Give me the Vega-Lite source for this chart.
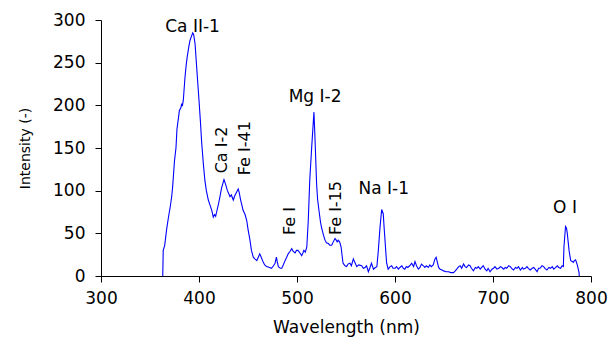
{
  "$schema": "https://vega.github.io/schema/vega-lite/v6.json",
  "width": 490,
  "height": 256,
  "autosize": {"type": "none"},
  "padding": {"left": 101, "top": 20, "right": 22, "bottom": 63},
  "background": "white",
  "config": {"view": {"stroke": null}, "font": "DejaVu Sans"},
  "datasets": {
    "spectrum": [
      {"w":363,"i":0},{"w":363.5,"i":30},{"w":365,"i":36},{"w":367,"i":55},{"w":369,"i":70},{"w":370.5,"i":80},{"w":372,"i":92},{"w":373,"i":103},{"w":375,"i":135},{"w":376.5,"i":150},{"w":377.5,"i":172},{"w":379,"i":185},{"w":380,"i":194},{"w":381.5,"i":197},{"w":382.3,"i":202},{"w":383,"i":199},{"w":384,"i":206},{"w":385.7,"i":233},{"w":387,"i":248},{"w":388,"i":257},{"w":389.5,"i":268},{"w":390.8,"i":276},{"w":392,"i":280},{"w":393.6,"i":285},{"w":394.5,"i":283},{"w":396,"i":272},{"w":397.6,"i":245},{"w":399,"i":222},{"w":400,"i":206},{"w":401.5,"i":180},{"w":402.7,"i":157},{"w":404.4,"i":132},{"w":406,"i":112},{"w":407.5,"i":100},{"w":409.5,"i":89},{"w":411,"i":84},{"w":413,"i":77},{"w":414.6,"i":69},{"w":416,"i":72},{"w":417,"i":70},{"w":418,"i":75},{"w":420,"i":85},{"w":421.4,"i":93},{"w":423,"i":103},{"w":425.5,"i":113},{"w":427,"i":108},{"w":429,"i":100},{"w":430.5,"i":96},{"w":431.6,"i":93},{"w":433,"i":95},{"w":435,"i":89},{"w":436.5,"i":94},{"w":437.8,"i":97},{"w":440,"i":102},{"w":441,"i":98},{"w":442.5,"i":89},{"w":444,"i":82},{"w":445,"i":77},{"w":447,"i":72},{"w":448.7,"i":65},{"w":450,"i":55},{"w":452,"i":42},{"w":453.5,"i":30},{"w":455.4,"i":22},{"w":457,"i":20},{"w":459,"i":18},{"w":460.5,"i":22},{"w":462,"i":26},{"w":463.5,"i":22},{"w":465.6,"i":16},{"w":467,"i":13},{"w":469,"i":11},{"w":472,"i":10},{"w":474,"i":9},{"w":476,"i":12},{"w":477.6,"i":15},{"w":479,"i":22},{"w":480,"i":16},{"w":481,"i":11},{"w":483,"i":9},{"w":484.4,"i":9},{"w":486,"i":13},{"w":487.8,"i":18},{"w":489.5,"i":22},{"w":491,"i":26},{"w":493,"i":29},{"w":494.6,"i":32},{"w":496,"i":29},{"w":498,"i":27},{"w":499.5,"i":30},{"w":501,"i":30},{"w":503,"i":27},{"w":504.8,"i":24},{"w":506,"i":27},{"w":507,"i":30},{"w":508.5,"i":28},{"w":510,"i":34},{"w":511.5,"i":65},{"w":513,"i":112},{"w":515,"i":151},{"w":516.6,"i":180},{"w":517.3,"i":192},{"w":518.4,"i":160},{"w":520,"i":108},{"w":521,"i":90},{"w":522.4,"i":77},{"w":524,"i":63},{"w":525,"i":57},{"w":527,"i":48},{"w":528.6,"i":42},{"w":530,"i":39},{"w":532,"i":38},{"w":533.5,"i":36},{"w":535.4,"i":36},{"w":537,"i":40},{"w":538.8,"i":44},{"w":540,"i":42},{"w":541,"i":40},{"w":542,"i":42},{"w":543.5,"i":40},{"w":545,"i":34},{"w":546,"i":24},{"w":547,"i":15},{"w":549,"i":12},{"w":550.7,"i":11},{"w":552,"i":14},{"w":554,"i":15},{"w":555.5,"i":12},{"w":557.5,"i":20},{"w":559,"i":16},{"w":561,"i":11},{"w":563,"i":13},{"w":566,"i":12},{"w":567.7,"i":9},{"w":569.5,"i":10},{"w":571,"i":12},{"w":572.8,"i":5},{"w":574.5,"i":10},{"w":576,"i":15},{"w":578,"i":8},{"w":580,"i":10},{"w":581.5,"i":11},{"w":583,"i":30},{"w":584.7,"i":57},{"w":586.4,"i":78},{"w":588,"i":73},{"w":589,"i":55},{"w":589.8,"i":42},{"w":591,"i":22},{"w":591.5,"i":15},{"w":593,"i":8},{"w":595,"i":11},{"w":596.6,"i":12},{"w":598,"i":9},{"w":600,"i":9},{"w":601.5,"i":11},{"w":603.5,"i":8},{"w":605,"i":10},{"w":607,"i":12},{"w":608.5,"i":9},{"w":610,"i":8},{"w":611.5,"i":11},{"w":613,"i":10},{"w":615,"i":12},{"w":617,"i":15},{"w":619,"i":11},{"w":620.4,"i":17},{"w":622,"i":12},{"w":623.8,"i":8},{"w":625.5,"i":10},{"w":627,"i":14},{"w":629,"i":12},{"w":630.4,"i":10},{"w":632,"i":12},{"w":634,"i":10},{"w":635.5,"i":13},{"w":637,"i":11},{"w":639,"i":13},{"w":640.8,"i":20},{"w":642,"i":22},{"w":643,"i":17},{"w":644.5,"i":10},{"w":646,"i":8},{"w":648,"i":7},{"w":649.6,"i":6},{"w":652,"i":5},{"w":654.6,"i":5},{"w":657,"i":4},{"w":659.7,"i":4},{"w":661.5,"i":6},{"w":663,"i":8},{"w":665,"i":11},{"w":666.5,"i":12},{"w":668,"i":9},{"w":670,"i":14},{"w":671.5,"i":11},{"w":673,"i":10},{"w":675,"i":13},{"w":676.6,"i":12},{"w":678,"i":9},{"w":680,"i":6},{"w":682,"i":10},{"w":683.5,"i":9},{"w":685,"i":11},{"w":687,"i":8},{"w":688.5,"i":10},{"w":690,"i":12},{"w":692,"i":8},{"w":693.7,"i":6},{"w":695,"i":9},{"w":697,"i":5},{"w":699,"i":8},{"w":700.5,"i":9},{"w":702,"i":11},{"w":704,"i":8},{"w":706,"i":9},{"w":707.5,"i":11},{"w":709,"i":10},{"w":711,"i":8},{"w":712.5,"i":10},{"w":714,"i":9},{"w":716,"i":12},{"w":717.7,"i":11},{"w":719,"i":9},{"w":721,"i":7},{"w":723,"i":10},{"w":724.5,"i":9},{"w":726,"i":11},{"w":728,"i":7},{"w":730,"i":10},{"w":731,"i":8},{"w":733,"i":9},{"w":734.7,"i":11},{"w":736,"i":9},{"w":738,"i":7},{"w":740,"i":9},{"w":741.5,"i":10},{"w":743,"i":8},{"w":745,"i":5},{"w":746.5,"i":9},{"w":748,"i":9},{"w":750,"i":12},{"w":751.7,"i":11},{"w":753,"i":9},{"w":755,"i":7},{"w":757,"i":10},{"w":758.7,"i":9},{"w":760.5,"i":11},{"w":762,"i":8},{"w":764,"i":10},{"w":765.6,"i":12},{"w":767,"i":10},{"w":769,"i":9},{"w":770.5,"i":12},{"w":771.8,"i":11},{"w":772.4,"i":34},{"w":774,"i":58},{"w":775,"i":56},{"w":775.8,"i":50},{"w":777.6,"i":30},{"w":779.3,"i":18},{"w":781,"i":17},{"w":782,"i":16},{"w":783,"i":18},{"w":784.3,"i":19},{"w":786,"i":13},{"w":787,"i":8},{"w":787.8,"i":4},{"w":788,"i":0}
    ],
    "labelsH": [
      {"w":393.4,"i":291.6,"label":"Ca II-1"},
      {"w":518.4,"i":209.5,"label":"Mg I-2"},
      {"w":588.5,"i":101.6,"label":"Na I-1"},
      {"w":773.5,"i":80,"label":"O I"}
    ],
    "labelsV": [
      {"w":423.2,"i":147.7,"label":"Ca I-2"},
      {"w":447.4,"i":149.7,"label":"Fe I-41"},
      {"w":492.9,"i":64.4,"label":"Fe I"},
      {"w":540.1,"i":79.6,"label":"Fe I-15"}
    ]
  },
  "layer": [
    {
      "data": {"name": "spectrum"},
      "mark": {"type": "line", "color": "#0000ff", "strokeWidth": 1.1, "clip": true},
      "encoding": {
        "x": {
          "field": "w", "type": "quantitative",
          "scale": {"domain": [300, 800], "nice": false, "zero": false},
          "axis": {
            "title": "Wavelength (nm)",
            "values": [300, 400, 500, 600, 700, 800],
            "grid": false,
            "labelFlush": false,
            "labelOverlap": false,
            "domainColor": "#000000",
            "tickColor": "#000000",
            "tickSize": 6,
            "labelFont": "DejaVu Sans",
            "labelFontSize": 17,
            "labelColor": "#000000",
            "labelPadding": 8,
            "titleFont": "DejaVu Sans",
            "titleFontSize": 17,
            "titleFontWeight": "normal",
            "titleColor": "#000000",
            "titlePadding": 13
          }
        },
        "y": {
          "field": "i", "type": "quantitative",
          "scale": {"domain": [0, 300], "nice": false},
          "axis": {
            "title": "Intensity (-)",
            "values": [0, 50, 100, 150, 200, 250, 300],
            "grid": false,
            "labelFlush": false,
            "labelOverlap": false,
            "domainColor": "#000000",
            "tickColor": "#000000",
            "tickSize": 6,
            "labelFont": "DejaVu Sans",
            "labelFontSize": 17,
            "labelColor": "#000000",
            "labelPadding": 10,
            "titleFont": "DejaVu Sans",
            "titleFontSize": 14,
            "titleFontWeight": "normal",
            "titleColor": "#000000",
            "titlePadding": 20
          }
        }
      }
    },
    {
      "data": {"name": "labelsH"},
      "mark": {"type": "text", "font": "DejaVu Sans", "fontSize": 17, "color": "#000000", "align": "center", "baseline": "middle"},
      "encoding": {
        "x": {"field": "w", "type": "quantitative"},
        "y": {"field": "i", "type": "quantitative"},
        "text": {"field": "label"}
      }
    },
    {
      "data": {"name": "labelsV"},
      "mark": {"type": "text", "font": "DejaVu Sans", "fontSize": 16, "color": "#000000", "align": "center", "baseline": "middle", "angle": 270},
      "encoding": {
        "x": {"field": "w", "type": "quantitative"},
        "y": {"field": "i", "type": "quantitative"},
        "text": {"field": "label"}
      }
    }
  ]
}
